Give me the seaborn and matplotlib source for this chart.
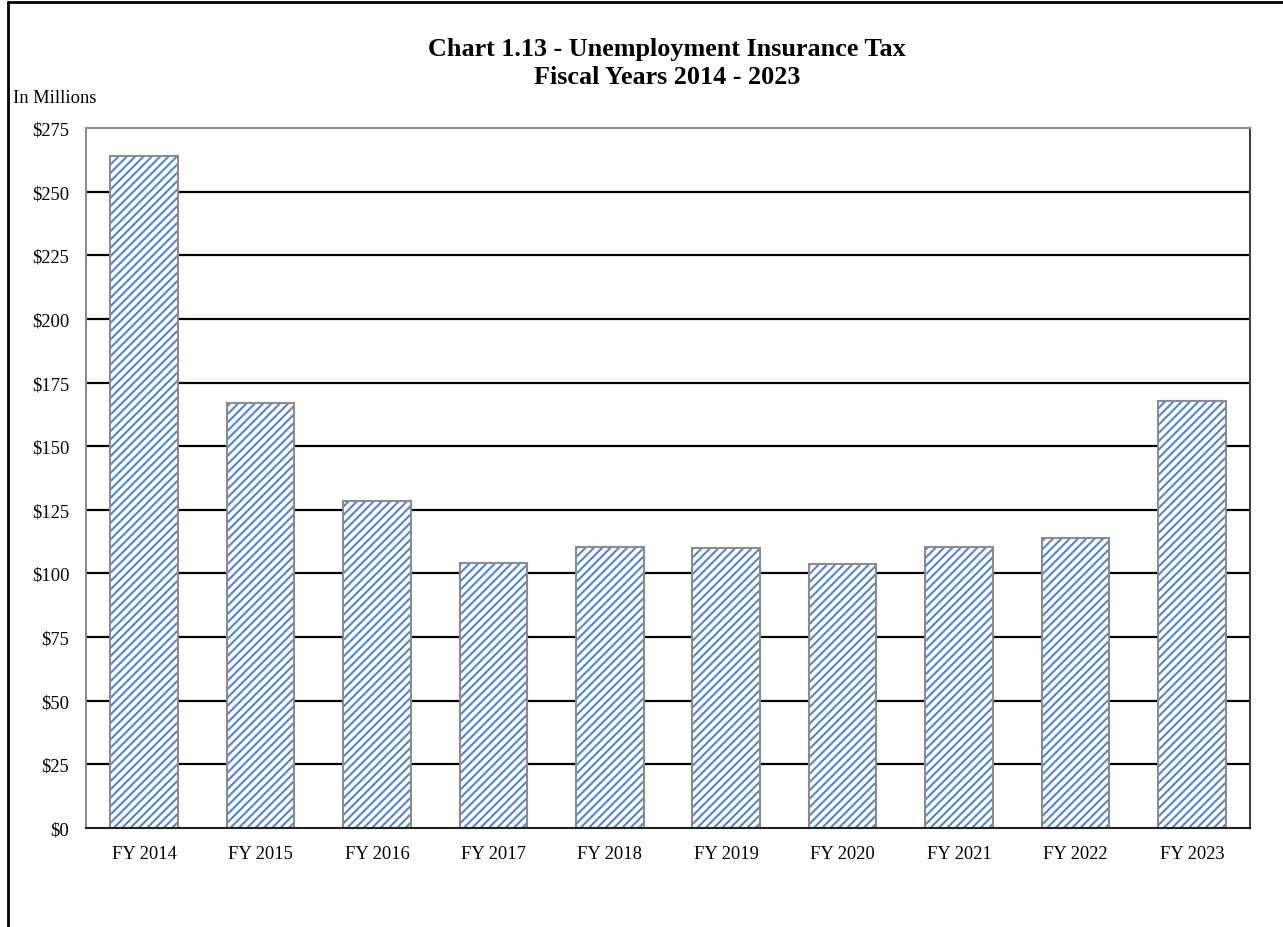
import matplotlib
matplotlib.use("Agg")
import matplotlib.pyplot as plt
import pandas as pd
import seaborn as sns
from matplotlib.colors import to_rgba
from matplotlib.lines import Line2D

years = ["FY 2014", "FY 2015", "FY 2016", "FY 2017", "FY 2018",
         "FY 2019", "FY 2020", "FY 2021", "FY 2022", "FY 2023"]
tax_millions = [264.0, 167.0, 128.5, 104.1, 110.4, 110.0, 103.7, 110.4, 113.9, 167.8]
y_ticks = list(range(0, 276, 25))
y_tick_labels = [f"${v}" for v in y_ticks]

HATCH_BLUE = "#5088CB"

sns.set_theme(style="white")
plt.rcParams["font.family"] = ["Liberation Serif", "DejaVu Serif"]
plt.rcParams["text.color"] = "black"
plt.rcParams["xtick.color"] = "black"
plt.rcParams["ytick.color"] = "black"
plt.rcParams["hatch.linewidth"] = 1.5

df = pd.DataFrame({"year": years, "tax": tax_millions})

fig = plt.figure(figsize=(12.83, 9.28), dpi=100)
ax = fig.add_axes([0.067, 0.1067, 0.9073, 0.7543])

sns.barplot(data=df, x="year", y="tax", ax=ax, color="white", width=0.58,
            edgecolor="#8C8C8C", linewidth=1.5, saturation=1)
for bar in ax.patches:
    bar.set_hatch("////")
    if hasattr(bar, "set_hatchcolor"):
        bar.set_hatchcolor(HATCH_BLUE)
    else:
        bar._hatch_color = to_rgba(HATCH_BLUE)

ax.set_ylim(0, 275)
ax.set_xlim(-0.5, len(years) - 0.5)
ax.set_yticks(y_ticks)
ax.set_yticklabels(y_tick_labels)
ax.tick_params(axis="x", labelsize=13.3, pad=12, length=0)
ax.tick_params(axis="y", labelsize=13.3, pad=12, length=0)
ax.set_xlabel("")
ax.set_ylabel("")

for v in y_ticks[1:-1]:
    ax.axhline(v, color="black", linewidth=1.6, zorder=0)

ax.spines["left"].set_color("#8C8C8C")
ax.spines["top"].set_color("#8C8C8C")
ax.spines["right"].set_color("#404040")
ax.spines["bottom"].set_color("#202020")
for s in ax.spines.values():
    s.set_linewidth(1.5)
    s.set_visible(True)

fig.text(0.52, 0.947, "Chart 1.13 - Unemployment Insurance Tax", ha="center", va="center",
         fontsize=18.8, fontweight="bold")
fig.text(0.52, 0.917, "Fiscal Years 2014 - 2023", ha="center", va="center",
         fontsize=18.8, fontweight="bold")
fig.text(0.010, 0.894, "In Millions", ha="left", va="center", fontsize=13.3)

# outer border (left and top edges)
fig.add_artist(Line2D([0.0066, 0.0066], [0.0, 0.9968], transform=fig.transFigure,
                      color="black", linewidth=2))
fig.add_artist(Line2D([0.0066, 1.0], [0.9968, 0.9968], transform=fig.transFigure,
                      color="black", linewidth=2))

fig.savefig("out.png", dpi=100)
